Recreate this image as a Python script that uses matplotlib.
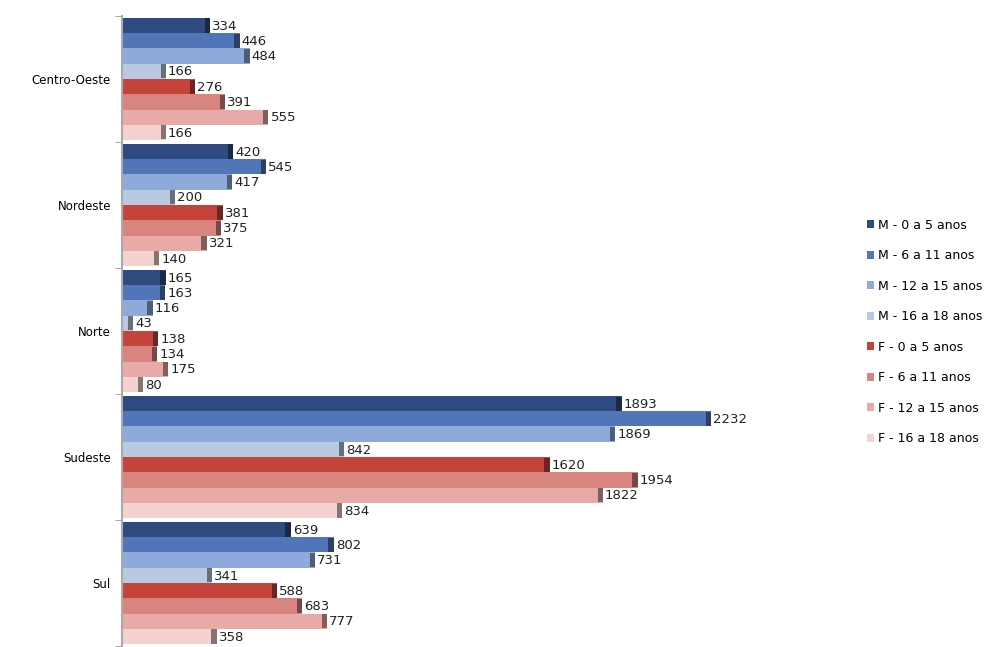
import numpy as np
import matplotlib
matplotlib.use('Agg')
import matplotlib.pyplot as plt
from matplotlib.colors import to_rgb
from matplotlib.patches import Patch

regioes = ['Centro-Oeste', 'Nordeste', 'Norte', 'Sudeste', 'Sul']
series = ['M - 0 a 5 anos', 'M - 6 a 11 anos', 'M - 12 a 15 anos', 'M - 16 a 18 anos',
          'F - 0 a 5 anos', 'F - 6 a 11 anos', 'F - 12 a 15 anos', 'F - 16 a 18 anos']
m_0_5 = [334, 420, 165, 1893, 639]
m_6_11 = [446, 545, 163, 2232, 802]
m_12_15 = [484, 417, 116, 1869, 731]
m_16_18 = [166, 200, 43, 842, 341]
f_0_5 = [276, 381, 138, 1620, 588]
f_6_11 = [391, 375, 134, 1954, 683]
f_12_15 = [555, 321, 175, 1822, 777]
f_16_18 = [166, 140, 80, 834, 358]
valores = [m_0_5, m_6_11, m_12_15, m_16_18, f_0_5, f_6_11, f_12_15, f_16_18]

cores = ['#2f4a7e', '#5075b9', '#8eaadb', '#b9c9e1',
         '#c4443b', '#d9857f', '#e8aaa6', '#f3d2cf']

fig = plt.figure(figsize=(9.97, 6.47), dpi=100)
ax = fig.add_axes([0.1224, 0.0015, 0.6776, 0.9738])

n = len(series)
h = 0.97 / n
y = np.arange(len(regioes))
cap = 20  # largura da "tampa" 3D no fim da barra

for i, (nome, vals, cor) in enumerate(zip(series, valores, cores)):
    pos = y - 0.485 + h * (i + 0.5)
    vals = np.array(vals)
    ax.barh(pos, vals, height=h, color=cor, label=nome, zorder=2)
    escura = tuple(c * 0.55 for c in to_rgb(cor))
    ax.barh(pos, cap, left=vals - cap, height=h * 0.92, color=escura, zorder=3)
    for p, v in zip(pos, vals):
        ax.text(v + 8, p + 0.005, str(v), va='center', ha='left', fontsize=9.5,
                color='#222222', zorder=4,
                bbox=dict(facecolor='white', edgecolor='none', pad=0.3))

ax.set_xlim(0, 2560)
ax.set_ylim(4.5, -0.5)
ax.set_yticks(y)
ax.set_yticklabels(regioes, fontsize=8.5)
ax.set_yticks(np.arange(-0.5, 4.6, 1), minor=True)
ax.tick_params(axis='y', which='major', length=0, pad=8)
ax.tick_params(axis='y', which='minor', length=5, color='#999999', direction='out')
ax.set_xticks([])
for s in ['top', 'right', 'bottom']:
    ax.spines[s].set_visible(False)
ax.spines['left'].set_color('#aaaaaa')
ax.spines['left'].set_linewidth(1.5)

handles = [Patch(facecolor=c, edgecolor='none') for c in cores]
fig.legend(handles, series, loc='center left', bbox_to_anchor=(0.858, 0.487),
           frameon=False, fontsize=9, handlelength=0.6, handleheight=0.6,
           handletextpad=0.3, labelspacing=1.4)

fig.savefig('out.png', dpi=100)
